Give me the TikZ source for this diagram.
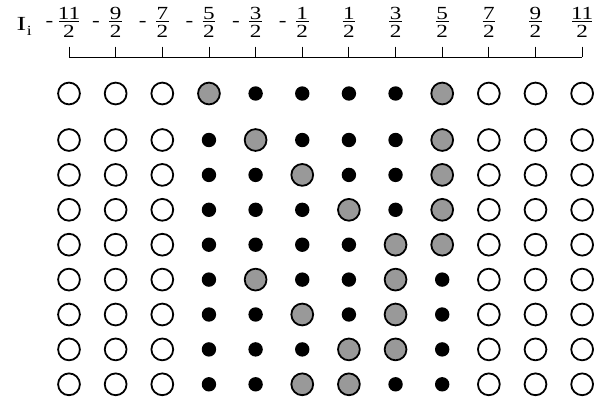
\documentclass[tikz,border=0pt]{standalone}
\usepackage{fontspec}
\setmainfont{Liberation Serif}
\newfontfamily\lblfont[FakeStretch=1.25]{Liberation Serif}
\newfontfamily\ilblfont[FakeStretch=1.45]{Liberation Serif}
\begin{document}
\begin{tikzpicture}[x=1pt,y=-1pt,
  openc/.style={circle,draw=black,fill=white,line width=1.8pt,minimum size=21.8pt,inner sep=0pt},
  grayc/.style={circle,draw=black,fill=gray60,line width=1.8pt,minimum size=21.8pt,inner sep=0pt},
  dotc/.style={circle,fill=black,minimum size=14.4pt,inner sep=0pt},
  numtxt/.style={inner sep=0pt,anchor=base,font=\lblfont\fontsize{18.5}{20}\selectfont},
  axisline/.style={line width=0.9pt,black}]
\definecolor{gray60}{HTML}{999999}
\useasboundingbox (0,0) rectangle (608,405);
% label I_i
\node[inner sep=0pt,anchor=base west,font=\ilblfont\fontsize{20}{22}\selectfont] (Ilab) at (16.3,30.2) {I};
\node[inner sep=0pt,anchor=base west,font=\lblfont\fontsize{14}{16}\selectfont] (ilab) at (26.8,35.3) {i};
% axis labels and ticks
\foreach \nm [count=\c] in {11,9,7,5,3,1,1,3,5,7,9,11} {
  \pgfmathsetmacro{\xx}{69+46.65*(\c-1)}
  \pgfmathsetmacro{\hw}{\nm>9 ? 10 : 6.3}
  \node[numtxt] (num\c) at (\xx,19.2) {\nm};
  \node[numtxt] (den\c) at (\xx,37.8) {2};
  \draw[line width=0.9pt] (\xx-\hw,21.6) -- (\xx+\hw,21.6);
  \ifnum\c<7
    \node[inner sep=0pt,font=\lblfont\fontsize{18.5}{20}\selectfont] (minus\c) at (\xx-19.6,24.2) {-};
  \fi
  \coordinate (ttop\c) at (\xx,46.7);
  \coordinate (tbot\c) at (\xx,57.3);
  \draw[axisline] (ttop\c) -- (tbot\c);
}
\draw[axisline] (tbot1) -- (tbot12);
% grid of circles
\foreach \row [count=\r] in {
  {openc,openc,openc,grayc,dotc,dotc,dotc,dotc,grayc,openc,openc,openc},
  {openc,openc,openc,dotc,grayc,dotc,dotc,dotc,grayc,openc,openc,openc},
  {openc,openc,openc,dotc,dotc,grayc,dotc,dotc,grayc,openc,openc,openc},
  {openc,openc,openc,dotc,dotc,dotc,grayc,dotc,grayc,openc,openc,openc},
  {openc,openc,openc,dotc,dotc,dotc,dotc,grayc,grayc,openc,openc,openc},
  {openc,openc,openc,dotc,grayc,dotc,dotc,grayc,dotc,openc,openc,openc},
  {openc,openc,openc,dotc,dotc,grayc,dotc,grayc,dotc,openc,openc,openc},
  {openc,openc,openc,dotc,dotc,dotc,grayc,grayc,dotc,openc,openc,openc},
  {openc,openc,openc,dotc,dotc,grayc,grayc,dotc,dotc,openc,openc,openc}} {
  \pgfmathsetmacro{\yy}{\r==1 ? 93.5 : 140+34.9*(\r-2)}
  \foreach \t [count=\c] in \row {
    \pgfmathsetmacro{\xx}{69+46.65*(\c-1)}
    \node[\t] (n-\r-\c) at (\xx,\yy) {};
  }
}
\end{tikzpicture}
\end{document}
